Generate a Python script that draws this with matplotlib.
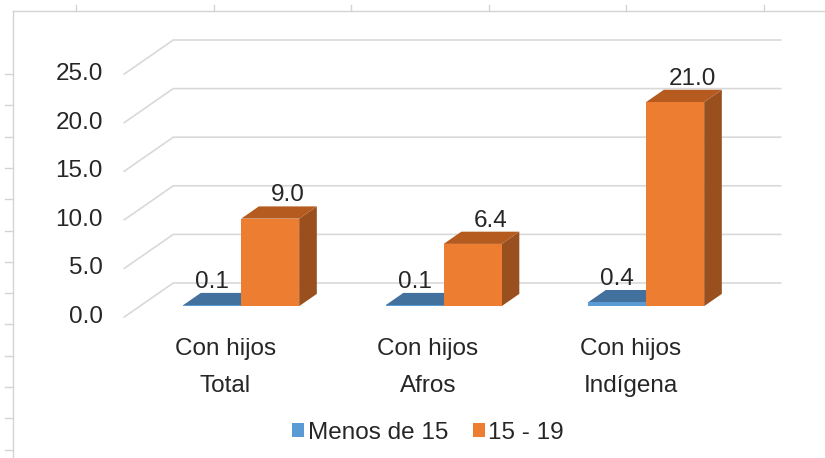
import matplotlib
matplotlib.use('Agg')
import matplotlib.pyplot as plt
from matplotlib.patches import Polygon, Patch
from matplotlib.lines import Line2D

# data
groups = ['Total', 'Afros', 'Indígena']
cat_top = 'Con hijos'
series = ['Menos de 15', '15 - 19']
menos15 = [0.1, 0.1, 0.4]
de15a19 = [9.0, 6.4, 21.0]
yticks = [0, 5, 10, 15, 20, 25]

front_cols = ['#5b9bd5', '#ed7d31']
top_cols = ['#41719c', '#b65b20']
side_cols = ['#3a6590', '#9a4f1f']
legend_cols = ['#5b9bd5', '#ed7d31']

W, H = 825, 458
CAT_PX, VAL_PX = 202.5, 9.72      # pixels per category / per unit
X0_PX, Y0_PX = 225.5, 317         # first category, value 0 on front plane
DX, DY = 49 / CAT_PX, 34 / VAL_PX  # full depth of the floor in data units
D0, D1 = 0.32, 0.68               # bar depth slab
BW = 58 / CAT_PX                  # bar width

plt.rcParams['font.family'] = ['Liberation Sans', 'DejaVu Sans']
txt = '#262626'
fs = 17.5

fig = plt.figure(figsize=(W / 100, H / 100), dpi=100)
ax = fig.add_axes([0, 0, 1, 1])
ax.set_xlim(-X0_PX / CAT_PX, (W - X0_PX) / CAT_PX)
ax.set_ylim((Y0_PX - H) / VAL_PX, Y0_PX / VAL_PX)
ax.axis('off')

# spreadsheet cell borders
gc = '#d4d4d4'
fig.add_artist(Line2D([13 / W, 1], [1 - 11 / H, 1 - 11 / H], color=gc, lw=1))
fig.add_artist(Line2D([13 / W, 13 / W], [0, 1 - 11 / H], color=gc, lw=1))
for k in range(6):
    x = (76 + 137.6 * k) / W
    fig.add_artist(Line2D([x, x], [1 - 5 / H, 1 - 11 / H], color=gc, lw=1))
for k in range(13):
    y = 1 - (74 + 31.3 * k) / H
    fig.add_artist(Line2D([5 / W, 13 / W], [y, y], color=gc, lw=1))

# walls / gridlines
n = len(groups)
left, right = -0.5, n - 0.5
for v in yticks:
    ax.plot([left, left + DX, right + DX], [v, v + DY, v + DY],
            color='#d9d9d9', lw=1.2, zorder=1)
    ax.text(left - 0.105, v, f'{v:.1f}', ha='right', va='center',
            fontsize=fs, color=txt)


def bar3d(x, v, k):
    xf = x + D0 * DX
    yf = D0 * DY
    bx = (D1 - D0) * DX
    by = (D1 - D0) * DY
    front = [(xf, yf), (xf + BW, yf), (xf + BW, yf + v), (xf, yf + v)]
    top = [(xf, yf + v), (xf + BW, yf + v), (xf + BW + bx, yf + v + by),
           (xf + bx, yf + v + by)]
    side = [(xf + BW, yf), (xf + BW + bx, yf + by),
            (xf + BW + bx, yf + v + by), (xf + BW, yf + v)]
    for pts, c in ((side, side_cols[k]), (top, top_cols[k]), (front, front_cols[k])):
        ax.add_patch(Polygon(pts, closed=True, facecolor=c, edgecolor='none',
                             zorder=3 + k))
    return xf, yf, bx, by


for i in range(n):
    for k, vals in enumerate([menos15, de15a19]):
        v = vals[i]
        x = i - BW if k == 0 else i
        xf, yf, bx, by = bar3d(x, v, k)
        lx = xf + BW / 2 + (bx if k == 1 else 0)
        ax.text(lx, yf + v + by, f'{v:.1f}', ha='center', va='bottom',
                fontsize=fs, color=txt, zorder=10)
    ax.text(i, (Y0_PX - 355) / VAL_PX, cat_top, ha='center', va='baseline',
            fontsize=fs, color=txt)
    ax.text(i, (Y0_PX - 392) / VAL_PX, groups[i], ha='center', va='baseline',
            fontsize=fs, color=txt)

handles = [Patch(facecolor=c, edgecolor='none') for c in legend_cols]
fig.legend(handles, series, loc='center', bbox_to_anchor=(428 / W, 1 - 433 / H),
           ncol=2, frameon=False, fontsize=fs, handlelength=0.5,
           handleheight=0.5, handletextpad=0.15, columnspacing=1.0,
           labelcolor=txt)

fig.savefig('out.png', dpi=100)
